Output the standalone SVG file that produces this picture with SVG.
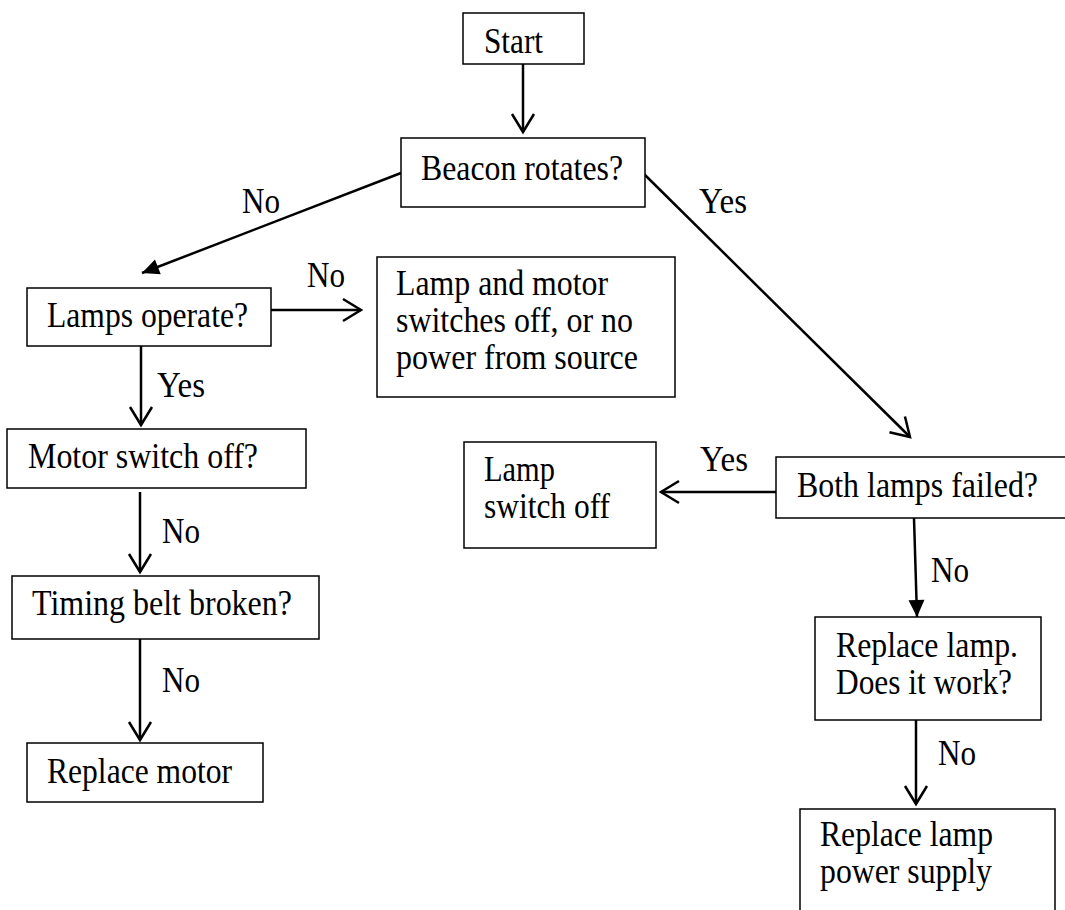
<svg xmlns="http://www.w3.org/2000/svg" width="1065" height="910" viewBox="0 0 1065 910">
  <defs>
    <style>
      .box { fill: #ffffff; stroke: #000000; stroke-width: 1.5; }
      .t { font-family: "Liberation Serif", "Times New Roman", serif; font-size: 35px; fill: #000000; }
      .c { fill: none; stroke: #000000; stroke-width: 2.5; }
    </style>
    <marker id="open" markerUnits="userSpaceOnUse" viewBox="-20 -13 22 26" refX="0" refY="0" markerWidth="22" markerHeight="26" orient="auto" overflow="visible">
      <path d="M -18 -11 L 0 0 L -18 11" fill="none" stroke="#000000" stroke-width="2.5" stroke-linejoin="miter"/>
    </marker>
    <marker id="filled" markerUnits="userSpaceOnUse" viewBox="-18 -9 19 18" refX="0" refY="0" markerWidth="19" markerHeight="18" orient="auto" overflow="visible">
      <path d="M -17 -8 L 0 0 L -17 8 Z" fill="#000000" stroke="none"/>
    </marker>
  </defs>
  <rect x="0" y="0" width="1065" height="910" fill="#ffffff"/>

  <g id="connectors">
    <line class="c" x1="523" y1="64" x2="523" y2="132" marker-end="url(#open)"/>
    <line class="c" x1="401" y1="173" x2="142" y2="273" marker-end="url(#filled)"/>
    <line class="c" x1="644" y1="174" x2="910" y2="437" marker-end="url(#open)"/>
    <line class="c" x1="271" y1="310" x2="361" y2="310" marker-end="url(#open)"/>
    <line class="c" x1="141" y1="346" x2="141" y2="425" marker-end="url(#open)"/>
    <line class="c" x1="140" y1="492" x2="140" y2="572" marker-end="url(#open)"/>
    <line class="c" x1="140" y1="639" x2="140" y2="740" marker-end="url(#open)"/>
    <line class="c" x1="776" y1="492" x2="661" y2="492" marker-end="url(#open)"/>
    <line class="c" x1="914" y1="518" x2="917" y2="617" marker-end="url(#filled)"/>
    <line class="c" x1="916" y1="720" x2="916" y2="804" marker-end="url(#open)"/>
    <text class="t" x="242" y="213" textLength="38" lengthAdjust="spacingAndGlyphs">No</text>
    <text class="t" x="699" y="213" textLength="48" lengthAdjust="spacingAndGlyphs">Yes</text>
    <text class="t" x="307" y="287" textLength="38" lengthAdjust="spacingAndGlyphs">No</text>
    <text class="t" x="157" y="397" textLength="48" lengthAdjust="spacingAndGlyphs">Yes</text>
    <text class="t" x="162" y="543" textLength="38" lengthAdjust="spacingAndGlyphs">No</text>
    <text class="t" x="162" y="692" textLength="38" lengthAdjust="spacingAndGlyphs">No</text>
    <text class="t" x="700" y="471" textLength="48" lengthAdjust="spacingAndGlyphs">Yes</text>
    <text class="t" x="931" y="582" textLength="38" lengthAdjust="spacingAndGlyphs">No</text>
    <text class="t" x="938" y="765" textLength="38" lengthAdjust="spacingAndGlyphs">No</text>
  </g>

  <g id="start">
    <rect class="box" x="463" y="13" width="121" height="51"/>
    <text class="t" x="484" y="53" textLength="59" lengthAdjust="spacingAndGlyphs">Start</text>
  </g>
  <g id="beacon">
    <rect class="box" x="401" y="138" width="244" height="69"/>
    <text class="t" x="421" y="180" textLength="202" lengthAdjust="spacingAndGlyphs">Beacon rotates?</text>
  </g>
  <g id="lamps-operate">
    <rect class="box" x="27" y="288" width="244" height="58"/>
    <text class="t" x="47" y="327" textLength="201" lengthAdjust="spacingAndGlyphs">Lamps operate?</text>
  </g>
  <g id="lamp-motor-off">
    <rect class="box" x="377" y="257" width="298" height="140"/>
    <text class="t" x="396" y="295" textLength="212" lengthAdjust="spacingAndGlyphs">Lamp and motor</text>
    <text class="t" x="396" y="332" textLength="237" lengthAdjust="spacingAndGlyphs">switches off, or no</text>
    <text class="t" x="396" y="369" textLength="242" lengthAdjust="spacingAndGlyphs">power from source</text>
  </g>
  <g id="motor-switch">
    <rect class="box" x="7" y="429" width="299" height="59"/>
    <text class="t" x="28" y="468" textLength="230" lengthAdjust="spacingAndGlyphs">Motor switch off?</text>
  </g>
  <g id="timing-belt">
    <rect class="box" x="12" y="576" width="307" height="63"/>
    <text class="t" x="32" y="615" textLength="260" lengthAdjust="spacingAndGlyphs">Timing belt broken?</text>
  </g>
  <g id="replace-motor">
    <rect class="box" x="27" y="743" width="236" height="59"/>
    <text class="t" x="47" y="783" textLength="185" lengthAdjust="spacingAndGlyphs">Replace motor</text>
  </g>
  <g id="lamp-switch-off">
    <rect class="box" x="464" y="442" width="192" height="106"/>
    <text class="t" x="484" y="481" textLength="71" lengthAdjust="spacingAndGlyphs">Lamp</text>
    <text class="t" x="484" y="518" textLength="126" lengthAdjust="spacingAndGlyphs">switch off</text>
  </g>
  <g id="both-lamps">
    <rect class="box" x="776" y="457" width="300" height="61"/>
    <text class="t" x="797" y="497" textLength="241" lengthAdjust="spacingAndGlyphs">Both lamps failed?</text>
  </g>
  <g id="replace-lamp">
    <rect class="box" x="815" y="617" width="226" height="103"/>
    <text class="t" x="836" y="657" textLength="182" lengthAdjust="spacingAndGlyphs">Replace lamp.</text>
    <text class="t" x="836" y="694" textLength="176" lengthAdjust="spacingAndGlyphs">Does it work?</text>
  </g>
  <g id="replace-power">
    <rect class="box" x="800" y="809" width="255" height="130"/>
    <text class="t" x="820" y="846" textLength="173" lengthAdjust="spacingAndGlyphs">Replace lamp</text>
    <text class="t" x="820" y="883" textLength="172" lengthAdjust="spacingAndGlyphs">power supply</text>
  </g>
</svg>
